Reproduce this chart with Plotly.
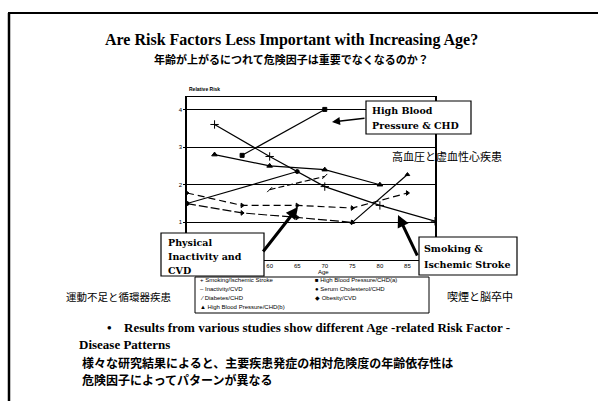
import plotly.graph_objects as go

W, H = 598, 401

# Relative risk by age for each risk factor / disease pair
smoking_age = [50, 60, 70, 80, 90]
smoking_rr = [3.6, 2.75, 1.95, 1.45, 1.03]

hbp_a_age = [55, 70]
hbp_a_rr = [2.78, 4.0]

inactivity_age = [45, 55, 65, 75, 85]
inactivity_rr = [1.78, 1.45, 1.45, 1.38, 1.78]

cholesterol_age = [45, 65]
cholesterol_rr = [1.5, 2.35]

diabetes_age = [60, 70]
diabetes_rr = [1.87, 2.22]

obesity_age = [45, 55, 65, 75, 85]
obesity_rr = [1.5, 1.25, 1.13, 1.0, 2.27]

hbp_b_age = [50, 60, 70, 80]
hbp_b_rr = [2.8, 2.5, 2.4, 2.0]

x_ticks = [60, 65, 70, 75, 80, 85]
y_ticks = [1, 2, 3, 4]

legend_col1 = ["+ Smoking/Ischemic Stroke", "\u2013 Inactivity/CVD",
               "\u2044 Diabetes/CHD", "\u25b2 High Blood Pressure/CHD(b)"]
legend_col2 = ["\u25a0 High Blood Pressure/CHD(a)", "\u25cf Serum Cholesterol/CHD",
               "\u25c6 Obesity/CVD"]

SERIF = "Liberation Serif, Times New Roman, serif"
WIDE_SERIF = "DejaVu Serif, serif"
SANS = "Liberation Sans, Arial, sans-serif"
JP = "Noto Sans CJK JP"


def px(x):
    return x / W


def py(y):
    return 1 - y / H


fig = go.Figure()


def add(xs, ys, symbol, size=5, dash="solid", width=1.2):
    fig.add_trace(go.Scatter(
        x=xs, y=ys, mode="lines+markers",
        line=dict(color="black", width=width, dash=dash),
        marker=dict(symbol=symbol, size=size, color="black",
                    line=dict(color="black", width=1)),
        hoverinfo="skip"))


add(smoking_age, smoking_rr, "cross-thin", 6)
add(hbp_a_age, hbp_a_rr, "square", 4)
add(inactivity_age, inactivity_rr, "triangle-right", 4, dash="7px,4px")
add(cholesterol_age, cholesterol_rr, "circle", 4)
add(diabetes_age, diabetes_rr, "line-ne", 5, dash="6px,3px")
add(obesity_age[:4], obesity_rr[:4], "triangle-right", 4, dash="9px,3px")
add(obesity_age[3:], obesity_rr[3:], "triangle-up", 4)
add(hbp_b_age, hbp_b_rr, "triangle-up", 5)

shapes = []
# slide frame
shapes.append(dict(type="line", xref="paper", yref="paper",
                   x0=px(8), x1=px(598), y0=py(13), y1=py(13),
                   line=dict(color="black", width=2)))
shapes.append(dict(type="line", xref="paper", yref="paper",
                   x0=px(9), x1=px(9), y0=py(13), y1=py(401),
                   line=dict(color="black", width=2.5)))


def box(x0, y0, x1, y1, width=1.2):
    shapes.append(dict(type="rect", xref="paper", yref="paper", layer="above",
                       x0=px(x0), x1=px(x1), y0=py(y0), y1=py(y1),
                       fillcolor="white", line=dict(color="black", width=width)))


box(366, 101, 471, 134)
box(161, 233, 264, 276)
box(419, 237, 517, 275)
box(195, 277, 429, 313, width=1)

ann = []


def text(x, y, s, size, family, anchor="left", bold=False, color="black"):
    if bold:
        s = "<b>" + s + "</b>"
    ann.append(dict(x=px(x), y=py(y), xref="paper", yref="paper", text=s,
                    showarrow=False, xanchor=anchor, yanchor="middle",
                    font=dict(size=size, family=family, color=color)))


def arrow(x_tip, y_tip, x_tail, y_tail, width):
    ann.append(dict(x=px(x_tip), y=py(y_tip), xref="paper", yref="paper",
                    ax=x_tail - x_tip, ay=y_tail - y_tip, text="",
                    showarrow=True, arrowhead=2, arrowsize=1 if width < 2 else 0.8,
                    arrowwidth=width, arrowcolor="black"))


# titles
text(291, 40, "Are Risk Factors Less Important with Increasing Age?", 16, SERIF,
     anchor="center", bold=True)
text(291, 59, "年齢が上がるにつれて危険因子は重要でなくなるのか？", 11, JP,
     anchor="center", bold=True)

# axis captions
text(187, 89, "Relative Risk", 5, SANS, bold=True)
text(323, 272, "Age", 6, SANS, anchor="center")

# callout boxes
for i, s in enumerate(["High Blood", "Pressure & CHD"]):
    text(370, 111 + 15 * i, s, 9.5, WIDE_SERIF, bold=True)
for i, s in enumerate(["Physical", "Inactivity and", "CVD"]):
    text(166, 242 + 14 * i, s, 9.5, WIDE_SERIF, bold=True)
for i, s in enumerate(["Smoking &", "Ischemic Stroke"]):
    text(422, 249 + 15 * i, s, 9.5, WIDE_SERIF, bold=True)

arrow(332, 122, 366, 118, 1.6)
arrow(298, 207, 262, 253, 3)
arrow(398, 215, 418, 257, 3)

text(390, 156, "高血圧と虚血性心疾患", 11, JP)
text(64, 296, "運動不足と循環器疾患", 10.5, JP)
text(445, 296, "喫煙と脳卒中", 11, JP)

# legend entries
rows = [280, 289, 298, 307]
for i, s in enumerate(legend_col1):
    text(198, rows[i], s, 6, SANS)
for i, s in enumerate(legend_col2):
    text(313, rows[i], s, 6, SANS)

# bullet text
text(105, 327, "•", 13, SERIF, bold=True)
text(122, 327, "Results from various studies show different Age -related Risk Factor -",
     13, SERIF, bold=True)
text(77, 344, "Disease Patterns", 13, SERIF, bold=True)
text(80, 362, "様々な研究結果によると、主要疾患発症の相対危険度の年齢依存性は", 12, JP, bold=True)
text(80, 379, "危険因子によってパターンが異なる", 12, JP, bold=True)

fig.update_layout(
    width=W, height=H, margin=dict(l=0, r=0, t=0, b=0),
    paper_bgcolor="white", plot_bgcolor="white", showlegend=False,
    shapes=shapes, annotations=ann,
    xaxis=dict(domain=[px(187), px(435)], range=[45, 90], tickvals=x_ticks,
               showgrid=False, zeroline=False, showline=True, mirror=True,
               linecolor="black", linewidth=1, ticks="",
               tickfont=dict(size=6, family=SANS, color="black")),
    yaxis=dict(domain=[py(260), py(97)], range=[0, 4.33], tickvals=y_ticks,
               showgrid=True, gridcolor="black", gridwidth=1, zeroline=False,
               showline=True, mirror=True, linecolor="black", linewidth=1.5,
               ticks="outside", ticklen=2, tickcolor="black",
               tickfont=dict(size=6, family=SANS, color="black")),
)

fig.write_html("out.html")
